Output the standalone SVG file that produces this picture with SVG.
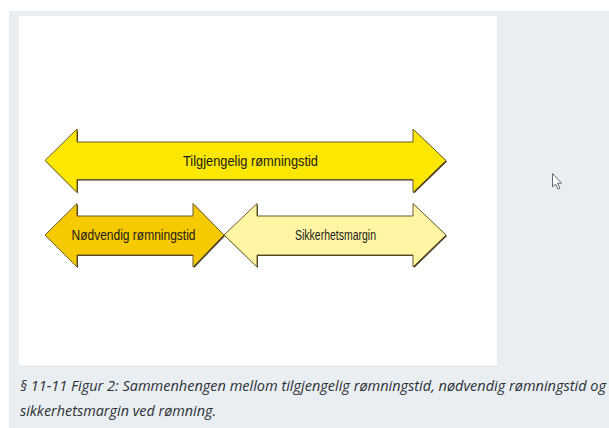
<svg xmlns="http://www.w3.org/2000/svg" width="609" height="428" viewBox="0 0 609 428">
<style>
.arrow{stroke:#6b5a2e;stroke-width:1;stroke-linejoin:miter}
.shadow{fill:#3d3118}
.lbl{font-family:"Liberation Sans",Arial,sans-serif;font-size:15px;fill:#1a1a1a;text-anchor:middle}
.cap{font-family:"Open Sans","Noto Sans",sans-serif;font-style:italic;font-size:14.4px;fill:#2b3035}
</style>
<rect x="0" y="0" width="609" height="428" fill="#ffffff"/>
<rect x="9" y="11" width="600" height="417" fill="#e9eef3"/>
<rect x="19" y="16" width="478" height="349" fill="#ffffff"/>
<g id="tilgjengelig">
<path class="shadow" d="M46,161.5 L78,130 L78,143 L414,143 L414,130 L447,161.5 L414,193.5 L414,180.5 L78,180.5 L78,193.5 Z"/>
<path class="arrow" fill="#fbe700" d="M45,160.5 L77,129 L77,142 L413,142 L413,129 L446,160.5 L413,192.5 L413,179.5 L77,179.5 L77,192.5 Z"/>
<text class="lbl" x="250.5" y="165.5" textLength="135" lengthAdjust="spacingAndGlyphs">Tilgjengelig rømningstid</text>
</g>
<g id="nodvendig">
<path class="shadow" d="M46,236 L78,204.5 L78,217 L194,217 L194,204.5 L225,236 L194,268 L194,256 L78,256 L78,268 Z"/>
<path class="arrow" fill="#f6c900" d="M45,235 L77,203.5 L77,216 L193,216 L193,203.5 L224,235 L193,267 L193,255 L77,255 L77,267 Z"/>
<text class="lbl" x="133.5" y="240" textLength="124" lengthAdjust="spacingAndGlyphs">Nødvendig rømningstid</text>
</g>
<g id="sikkerhetsmargin">
<path class="shadow" d="M225,236 L258,204.5 L258,217 L414,217 L414,204.5 L447,236 L414,268 L414,256 L258,256 L258,268 Z"/>
<path class="arrow" fill="#fff5a3" d="M224,235 L257,203.5 L257,216 L413,216 L413,203.5 L446,235 L413,267 L413,255 L257,255 L257,267 Z"/>
<text class="lbl" x="335.5" y="240" textLength="81" lengthAdjust="spacingAndGlyphs">Sikkerhetsmargin</text>
</g>
<g id="connectors"></g>
<g id="caption">
<text class="cap" x="20" y="391" textLength="586" lengthAdjust="spacingAndGlyphs">§ 11-11 Figur 2: Sammenhengen mellom tilgjengelig rømningstid, nødvendig rømningstid og</text>
<text class="cap" x="20" y="416">sikkerhetsmargin ved rømning.</text>
</g>
<g id="cursor">
<path d="M552.5,173.5 L552.5,187 L555.5,184 L558,189 L560,188 L557.5,183.2 L561.5,183.2 Z" fill="#ffffff" stroke="#555a60" stroke-width="0.9" stroke-linejoin="round"/>
</g>
</svg>
